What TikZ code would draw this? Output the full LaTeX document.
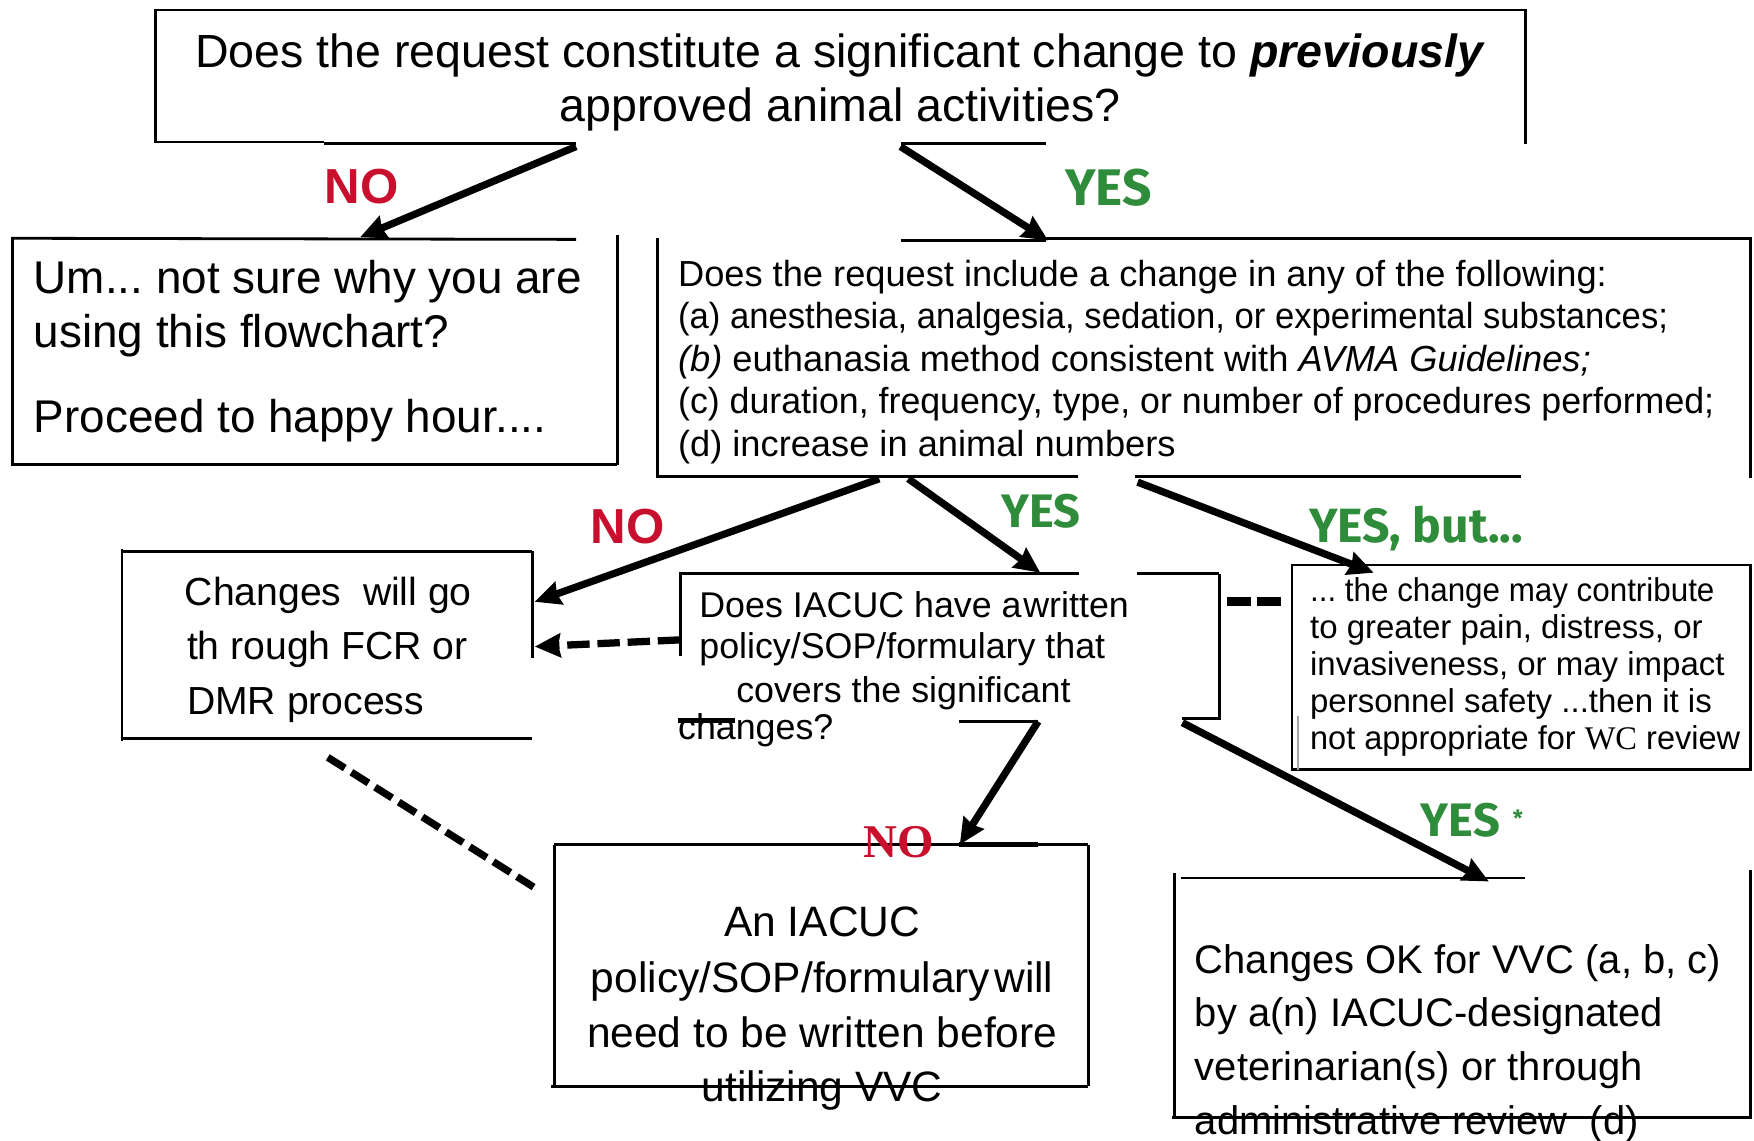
\documentclass[tikz,border=0pt]{standalone}
\usepackage{fontspec}
\setmainfont{Liberation Sans}
\newfontfamily\yesfont{Fira Sans}
\newfontfamily\serfont{Liberation Serif}
\usetikzlibrary{arrows.meta}
\definecolor{nored}{RGB}{200,16,46}
\definecolor{yesgreen}{RGB}{46,140,58}
\frenchspacing
\begin{document}
\begin{tikzpicture}[x=1pt,y=-1pt,
  edge/.style={line width=2.5pt},
  arr/.style={line width=6.5pt,-{Stealth[length=23pt,width=21pt,inset=2pt]}},
  tA/.style={inner sep=0pt,font=\fontsize{41.6pt}{50pt}\selectfont},
  tB/.style={inner sep=0pt,font=\fontsize{41pt}{49pt}\selectfont},
  tC/.style={inner sep=0pt,font=\fontsize{32.4pt}{38pt}\selectfont},
  tD/.style={inner sep=0pt,font=\fontsize{35pt}{49pt}\selectfont},
  tE/.style={inner sep=0pt,font=\fontsize{32pt}{38pt}\selectfont},
  tF/.style={inner sep=0pt,font=\fontsize{29.5pt}{33pt}\selectfont},
  tG/.style={inner sep=0pt,font=\fontsize{38pt}{50pt}\selectfont},
  tH/.style={inner sep=0pt,font=\fontsize{35.7pt}{48pt}\selectfont},
  nolab/.style={inner sep=0pt,anchor=base west,text=nored,font=\fontsize{44pt}{44pt}\selectfont\bfseries},
  yeslab/.style={inner sep=0pt,anchor=base west,text=yesgreen,font=\fontsize{46pt}{46pt}\selectfont\yesfont\bfseries},
  yeslabs/.style={yeslab,font=\fontsize{42pt}{42pt}\selectfont\yesfont\bfseries}]
\useasboundingbox (0,0) rectangle (1568,1020);
\fill[white] (0,0) rectangle (1568,1020);

% ---------- box outlines ----------
% top question
\draw[edge] (138,9) -- (1365,9);
\draw[edge] (139,8) -- (139,127);
\draw[edge] (1364,8) -- (1364,129);
\draw[edge] (138,127) -- (290,127);
\draw[edge] (290,128) -- (515,128);
\draw[edge] (805,128) -- (935,128);
% Um... box
\draw[edge] (10,213) -- (515,214);
\draw[edge] (11,212) -- (11,416);
\draw[edge] (10,415) -- (552,415);
\draw[edge] (552,210) -- (552,416);
% list box
\draw[edge] (805,215) -- (935,215);
\draw[edge] (935,213) -- (1566,213);
\draw[edge] (588,213) -- (588,427);
\draw[edge] (1565,213) -- (1565,427);
\draw[edge] (587,426) -- (964,426);
\draw[edge] (1015,426) -- (1360,426);
% FCR box
\draw[edge] (108,493) -- (476,493);
\draw[edge] (109,491) -- (109,662);
\draw[edge] (108,660) -- (476,660);
\draw[edge] (476,493) -- (476,588);
% IACUC question box
\draw[edge] (608,513) -- (965,513);
\draw[edge] (1016,513) -- (1090,513);
\draw[edge] (608,511) -- (608,586);
\draw[edge] (1090,513) -- (1090,642) -- (1057,642);
\draw[line width=4pt] (606,644) -- (657,644);
% YES but box
\draw[edge] (1155,505) rectangle (1565,688);
\draw[line width=2pt,black!35] (1160,640) -- (1160,688);
% policy box
\draw[line width=2pt] (495,755) -- (973,755);
\draw[line width=4pt] (857,755) -- (928,755);
\draw[edge] (496,755) -- (496,971);
\draw[edge] (973,755) -- (973,971);
\draw[edge] (493,971) -- (973,971);
% OK box
\draw[line width=2pt] (1056,785) -- (1363,785);
\draw[edge] (1050,780) -- (1050,1000);
\draw[edge] (1565,778) -- (1565,1000);
\draw[line width=3.5pt] (1048,999) -- (1565,999);

% ---------- texts ----------
\node[tA,anchor=base] (q1a) at (751,60) {Does the request constitute a significant change to \textbf{\textit{previously}}};
\node[tA,anchor=base] (q1b) at (751,109) {approved animal activities?};

\node[tB,anchor=base west] (um1) at (30,262) {Um... not sure why you are};
\node[tB,anchor=base west] (um2) at (30,311) {using this flowchart?};
\node[tB,anchor=base west] (um3) at (30,387) {Proceed to happy hour....};

\node[tC,anchor=base west] (q2a) at (606,256) {Does the request include a change in any of the following:};
\node[tC,anchor=base west] (q2b) at (606,294) {\scalebox{0.956}[1]{(a) anesthesia, analgesia, sedation, or experimental substances;}};
\node[tC,anchor=base west] (q2c) at (606,332) {\textit{(b)} euthanasia method consistent with \textit{AVMA Guidelines;}};
\node[tC,anchor=base west] (q2d) at (606,370) {\scalebox{0.986}[1]{(c) duration, frequency, type, or number of procedures performed;}};
\node[tC,anchor=base west] (q2e) at (606,408) {(d) increase in animal numbers};

\node[tD,anchor=base west] (f1) at (165,541) {Changes\hspace{0.55em}will go};
\node[tD,anchor=base west] (f2) at (167,590) {th rough FCR or};
\node[tD,anchor=base west] (f3) at (167,639) {DMR process};

\node[tE,anchor=base west] (q3a) at (625,552) {Does IACUC have a\hspace{0.05em}written};
\node[tE,anchor=base west] (q3b) at (625,589) {policy/SOP/formulary that};
\node[tE,anchor=base west] (q3c) at (658,628) {covers the significant};
\node[tE,anchor=base west] (q3d) at (606,661) {changes?};

\node[tF,anchor=base west] (w1) at (1171,538) {\scalebox{0.95}[1]{... the change may contribute}};
\node[tF,anchor=base west] (w2) at (1171,571) {to greater pain, distress, or};
\node[tF,anchor=base west] (w3) at (1171,604) {invasiveness, or may impact};
\node[tF,anchor=base west] (w4) at (1171,637) {personnel safety ...then it is};
\node[tF,anchor=base west] (w5) at (1171,670) {\scalebox{0.985}[1]{not appropriate for {\serfont WC} review}};

\node[tG,anchor=base] (p1) at (735,837) {An IACUC};
\node[tG,anchor=base] (p2) at (735,887) {policy/SOP/formulary\hspace{0.1em}will};
\node[tG,anchor=base] (p3) at (735,936) {need to be written before};
\node[tG,anchor=base] (p4) at (735,985) {utilizing VVC};

\node[tH,anchor=base west] (k1) at (1068,870) {Changes OK for VVC (a, b, c)};
\node[tH,anchor=base west] (k2) at (1068,918) {by a(n) IACUC-designated};
\node[tH,anchor=base west] (k3) at (1068,966) {veterinarian(s) or through};
\node[tH,anchor=base west] (k4) at (1068,1014) {administrative review\ \ (d)};

% ---------- labels ----------
\node[nolab] (no1) at (290,182) {NO};
\node[yeslab] (yes1) at (952,184) {YES};
\node[nolab] (no2) at (528,486) {NO};
\node[yeslabs] (yes2) at (895,472) {YES};
\node[yeslab,font=\fontsize{43pt}{43pt}\selectfont\yesfont\bfseries] (yes3) at (1170,485) {YES, but...};
\node[yeslabs] (yes4) at (1270,748) {YES};
\node[inner sep=0pt,text=yesgreen,font=\fontsize{20pt}{20pt}\selectfont\yesfont\bfseries] (star) at (1357,731) {*};
\node[inner sep=0pt,anchor=base west,text=nored,font=\fontsize{42pt}{42pt}\selectfont\serfont\bfseries] (no3) at (772,767) {NO};

% ---------- connectors ----------
\coordinate (c1s) at (515,131);  \coordinate (c1e) at (322,212);
\coordinate (c2s) at (805,131);  \coordinate (c2e) at (937,215);
\coordinate (c3s) at (786,428);  \coordinate (c3e) at (478,538);
\coordinate (c4s) at (812,428);  \coordinate (c4e) at (930,512);
\coordinate (c5s) at (1017,431); \coordinate (c5e) at (1228,512);
\coordinate (c6a) at (857,645);  \coordinate (c6b) at (928,645); \coordinate (c6e) at (858,755);
\coordinate (c7s) at (1057,646); \coordinate (c7e) at (1331,788);
\coordinate (d1s) at (608,572);  \coordinate (d1e) at (478,578);
\coordinate (d2s) at (293,677);  \coordinate (d2e) at (477,793);
\coordinate (d3s) at (1097,538); \coordinate (d3e) at (1145,538);

\draw[arr] (c1s) -- (c1e);
\draw[arr] (c2s) -- (c2e);
\draw[arr] (c3s) -- (c3e);
\draw[arr] (c4s) -- (c4e);
\draw[arr] (c5s) -- (c5e);
\draw[line width=3.5pt] (c6a) -- (c6b);
\draw[arr] (c6b) -- (c6e);
\draw[arr] (c7s) -- (c7e);
\draw[arr,line width=6.5pt,dash pattern=on 20pt off 7pt] (d1s) -- (d1e);
\draw[line width=6.5pt,dash pattern=on 18pt off 7pt] (d2s) -- (d2e);
\draw[line width=8pt,dash pattern=on 21pt off 6pt] (d3s) -- (d3e);
\end{tikzpicture}
\end{document}
